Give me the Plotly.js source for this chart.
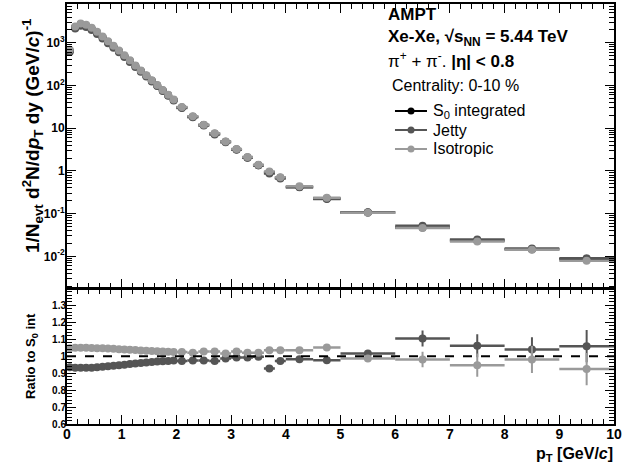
<!DOCTYPE html>
<html>
<head>
<meta charset="utf-8">
<script src="https://cdn.plot.ly/plotly-3.0.1.min.js"></script>
<style>
  body { margin: 0; background: #fff; }
  #chart { width: 638px; height: 466px; }
</style>
</head>
<body>
<div id="chart"></div>
<script>
// pT bin centres and half widths [GeV/c]
var ptCentres = [0.05, 0.15, 0.25, 0.35, 0.45, 0.55, 0.65, 0.75, 0.85, 0.95,
                 1.05, 1.15, 1.25, 1.35, 1.45, 1.55, 1.65, 1.75, 1.85, 1.95,
                 2.1, 2.3, 2.5, 2.7, 2.9, 3.1, 3.3, 3.5, 3.7, 3.9,
                 4.25, 4.75, 5.5, 6.5, 7.5, 8.5, 9.5];
var ptHalfWidths = [0.05, 0.05, 0.05, 0.05, 0.05, 0.05, 0.05, 0.05, 0.05, 0.05,
                    0.05, 0.05, 0.05, 0.05, 0.05, 0.05, 0.05, 0.05, 0.05, 0.05,
                    0.1, 0.1, 0.1, 0.1, 0.1, 0.1, 0.1, 0.1, 0.1, 0.1,
                    0.25, 0.25, 0.5, 0.5, 0.5, 0.5, 0.5];

// spectra 1/Nevt d2N/dpT dy
var spectrumS0 = [650, 2300, 2700, 2500, 2130, 1720, 1340, 1040, 810, 630,
                  490, 373, 284, 217, 169, 128, 100, 76, 59, 45.5,
                  30.6, 18.5, 11.8, 7.36, 4.78, 3.18, 2.06, 1.36, 0.93, 0.686,
                  0.42, 0.225, 0.106, 0.0472, 0.0234, 0.0146, 0.0085];
var spectrumJetty = [608, 2144, 2514, 2328, 1985, 1606, 1256, 978, 764, 597,
                     466, 356, 272, 208, 163, 124, 96.8, 73.7, 57.3, 44.3,
                     29.7, 18.0, 11.5, 7.15, 4.71, 3.15, 2.04, 1.35, 0.863, 0.667,
                     0.412, 0.220, 0.108, 0.0521, 0.0248, 0.0152, 0.0090];
var spectrumIso = [681, 2413, 2832, 2623, 2232, 1801, 1402, 1087, 845, 656,
                   510, 387, 294, 224, 174, 132, 102.9, 78.1, 60.5, 46.6,
                   31.4, 18.9, 12.1, 7.57, 4.86, 3.27, 2.10, 1.39, 0.963, 0.710,
                   0.435, 0.236, 0.105, 0.0463, 0.0222, 0.0143, 0.0079];

// ratios to S0 integrated
var ratioJetty = [0.935, 0.932, 0.931, 0.931, 0.932, 0.934, 0.937, 0.940, 0.943, 0.947,
                  0.950, 0.954, 0.957, 0.960, 0.963, 0.966, 0.968, 0.970, 0.972, 0.974,
                  0.972, 0.975, 0.975, 0.972, 0.986, 0.992, 0.992, 0.996, 0.928, 0.972,
                  0.982, 0.976, 1.016, 1.104, 1.061, 1.039, 1.059];
var ratioJettyErr = [0.002, 0.002, 0.002, 0.002, 0.002, 0.002, 0.002, 0.002, 0.002, 0.002,
                     0.002, 0.002, 0.002, 0.002, 0.002, 0.002, 0.003, 0.003, 0.003, 0.003,
                     0.004, 0.004, 0.004, 0.005, 0.005, 0.005, 0.006, 0.006, 0.007, 0.008,
                     0.008, 0.010, 0.018, 0.047, 0.068, 0.073, 0.095];
var ratioIso = [1.047, 1.049, 1.049, 1.049, 1.048, 1.047, 1.046, 1.045, 1.043, 1.041,
                1.040, 1.038, 1.036, 1.034, 1.032, 1.030, 1.029, 1.028, 1.026, 1.025,
                1.025, 1.020, 1.028, 1.028, 1.016, 1.028, 1.020, 1.020, 1.035, 1.035,
                1.035, 1.051, 0.986, 0.980, 0.947, 0.980, 0.924];
var ratioIsoErr = [0.002, 0.002, 0.002, 0.002, 0.002, 0.002, 0.002, 0.002, 0.002, 0.002,
                   0.002, 0.002, 0.002, 0.002, 0.002, 0.002, 0.003, 0.003, 0.003, 0.003,
                   0.004, 0.004, 0.004, 0.005, 0.005, 0.005, 0.006, 0.006, 0.007, 0.008,
                   0.008, 0.010, 0.020, 0.046, 0.069, 0.080, 0.095];

var seriesNames = ['S<sub>0</sub> integrated', 'Jetty', 'Isotropic'];
var seriesColors = ['#000000', '#555555', '#9a9a9a'];

var fontFam = 'Liberation Sans, Arial, Helvetica, sans-serif';

function specTrace(y, i)
{
	return {
		x: ptCentres, y: y, xaxis: 'x', yaxis: 'y',
		type: 'scatter', mode: 'markers', name: seriesNames[i],
		marker: {color: seriesColors[i], size: 8},
		error_x: {type: 'data', array: ptHalfWidths, width: 0, thickness: 2.5, color: seriesColors[i]},
		hoverinfo: 'skip'
	};
}

function ratioTrace(y, err, i)
{
	return {
		x: ptCentres, y: y, xaxis: 'x2', yaxis: 'y2',
		type: 'scatter', mode: 'markers', name: seriesNames[i],
		marker: {color: seriesColors[i], size: 8},
		error_x: {type: 'data', array: ptHalfWidths, width: 0, thickness: 2.5, color: seriesColors[i]},
		error_y: {type: 'data', array: err, width: 0, thickness: 2, color: seriesColors[i]},
		hoverinfo: 'skip'
	};
}

var data = [
	specTrace(spectrumS0, 0),
	specTrace(spectrumJetty, 1),
	specTrace(spectrumIso, 2),
	ratioTrace(ratioJetty, ratioJettyErr, 1),
	ratioTrace(ratioIso, ratioIsoErr, 2)
];

var minorLog = [];
[-3, -2, -1, 0, 1, 2, 3].forEach(function(e) {
	for (var k = 2; k <= 9; k++) minorLog.push(k * Math.pow(10, e));
});

var xCommon = {
	range: [0, 10], showline: true, linewidth: 2, linecolor: '#000', mirror: 'allticks',
	ticks: 'inside', ticklen: 9, tickwidth: 1, tickcolor: '#000', dtick: 1, tick0: 0,
	minor: {ticks: 'inside', ticklen: 5, dtick: 0.2, tickcolor: '#000', showgrid: false},
	showgrid: false, zeroline: false
};

var shapes = [{
	type: 'line', xref: 'x2', yref: 'y2', x0: 0, x1: 10, y0: 1, y1: 1,
	line: {color: '#000', width: 2, dash: 'dash'}
}];

var annotations = [
	{xref: 'paper', yref: 'paper', x: -0.064, y: 0.688, xanchor: 'center', yanchor: 'middle',
	 textangle: -90, showarrow: false,
	 text: '<b>1/N<sub>evt</sub> d<sup>2</sup>N/d<i>p</i><sub>T</sub> dy (GeV/<i>c</i>)<sup>-1</sup></b>',
	 font: {family: fontFam, size: 19, color: '#000'}},
	{xref: 'paper', yref: 'paper', x: -0.064, y: 0.162, xanchor: 'center', yanchor: 'middle',
	 textangle: -90, showarrow: false,
	 text: '<b>Ratio to S<sub>0</sub> int</b>',
	 font: {family: fontFam, size: 13, color: '#000'}},
	{xref: 'paper', yref: 'paper', x: 1.002, y: -0.072, xanchor: 'right', yanchor: 'middle', showarrow: false,
	 text: '<b>p<sub>T</sub> [GeV/<i>c</i>]</b>',
	 font: {family: fontFam, size: 16, color: '#000'}},
	{xref: 'paper', yref: 'paper', x: 0.583, y: 0.974, xanchor: 'left', yanchor: 'middle', showarrow: false,
	 text: '<b>AMPT</b>', font: {family: fontFam, size: 17, color: '#000'}},
	{xref: 'paper', yref: 'paper', x: 0.583, y: 0.919, xanchor: 'left', yanchor: 'middle', showarrow: false,
	 text: '<b>Xe-Xe, √s<sub>NN</sub> = 5.44 TeV</b>', font: {family: fontFam, size: 17, color: '#000'}},
	{xref: 'paper', yref: 'paper', x: 0.583, y: 0.866, xanchor: 'left', yanchor: 'middle', showarrow: false,
	 text: 'π<sup>+</sup> + π<sup>-</sup>. <b>|η| &lt; 0.8</b>', font: {family: fontFam, size: 17, color: '#000'}},
	{xref: 'paper', yref: 'paper', x: 0.5905, y: 0.805, xanchor: 'left', yanchor: 'middle', showarrow: false,
	 text: 'Centrality: 0-10 %', font: {family: fontFam, size: 16, color: '#000'}}
];

// legend drawn as key line + dot + label (paper coordinates)
var legendRowsY = [0.7452, 0.7, 0.6548];
seriesNames.forEach(function(name, i) {
	shapes.push({type: 'line', xref: 'paper', yref: 'paper', x0: 0.5996, x1: 0.6581,
		y0: legendRowsY[i], y1: legendRowsY[i], line: {color: seriesColors[i], width: 2}});
	shapes.push({type: 'circle', xref: 'paper', yref: 'paper',
		xsizemode: 'pixel', ysizemode: 'pixel', xanchor: 0.6289, yanchor: legendRowsY[i],
		x0: -3.5, x1: 3.5, y0: -3.5, y1: 3.5,
		fillcolor: seriesColors[i], line: {color: seriesColors[i], width: 0}});
	annotations.push({xref: 'paper', yref: 'paper', x: 0.6654, y: legendRowsY[i],
		xanchor: 'left', yanchor: 'middle', showarrow: false, text: name,
		font: {family: fontFam, size: 16, color: '#000'}});
});

var layout = {
	width: 638, height: 466,
	margin: {l: 67, r: 24, t: 4, b: 42},
	paper_bgcolor: '#fff', plot_bgcolor: '#fff',
	font: {family: fontFam, color: '#000'},
	showlegend: false,
	xaxis: Object.assign({}, xCommon, {anchor: 'y', showticklabels: false}),
	xaxis2: Object.assign({}, xCommon, {anchor: 'y2', ticklabelstandoff: -4,
		tickfont: {family: fontFam, size: 14, color: '#000', weight: 'bold'}}),
	yaxis: {
		domain: [0.323, 1], anchor: 'x', type: 'log', range: [-2.75, 3.907],
		showline: true, linewidth: 2, linecolor: '#000', mirror: 'allticks',
		ticks: 'inside', ticklen: 9, tickcolor: '#000', ticklabelstandoff: -2,
		tickmode: 'array', tickvals: [0.01, 0.1, 1, 10, 100, 1000],
		ticktext: ['10<sup>-2</sup>', '10<sup>-1</sup>', '1', '10', '10<sup>2</sup>', '10<sup>3</sup>'],
		minor: {ticks: 'inside', ticklen: 5, tickmode: 'array', tickvals: minorLog, tickcolor: '#000', showgrid: false},
		tickfont: {family: fontFam, size: 12, color: '#000', weight: 'bold'},
		showgrid: false, zeroline: false
	},
	yaxis2: {
		domain: [0, 0.321], anchor: 'x2', range: [0.6, 1.395],
		showline: true, linewidth: 2, linecolor: '#000', mirror: 'allticks',
		ticks: 'inside', ticklen: 9, tickcolor: '#000', ticklabelstandoff: -3,
		tickmode: 'array', tickvals: [0.6, 0.7, 0.8, 0.9, 1, 1.1, 1.2, 1.3],
		ticktext: ['0.6', '0.7', '0.8', '0.9', '1', '1.1', '1.2', '1.3'],
		minor: {ticks: 'inside', ticklen: 5, dtick: 0.02, tick0: 0.6, tickcolor: '#000', showgrid: false},
		tickfont: {family: fontFam, size: 10, color: '#000', weight: 'bold'},
		showgrid: false, zeroline: false
	},
	shapes: shapes,
	annotations: annotations
};

Plotly.newPlot('chart', data, layout, {displayModeBar: false, staticPlot: true});
</script>
</body>
</html>
